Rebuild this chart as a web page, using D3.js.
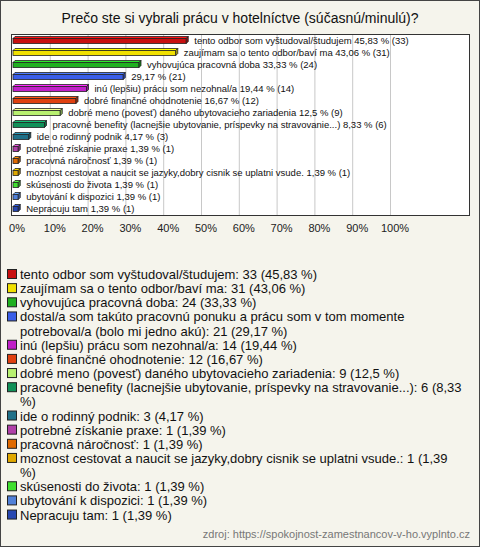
<!DOCTYPE html><html><head><meta charset="utf-8"><script src="https://cdn.jsdelivr.net/npm/d3@7"></script>
<style>body{margin:0;background:#fff}</style></head><body><svg id="c" width="480" height="547"></svg>
<script>
const categories=["tento odbor som vyštudoval/študujem","zaujímam sa o tento odbor/baví ma","vyhovujúca pracovná doba","dostal/a som takúto pracovnú ponuku a prácu som v tom momente potreboval/a (bolo mi jedno akú)","inú (lepšiu) prácu som nezohnal/a","dobré finančné ohodnotenie","dobré meno (povesť) daného ubytovacieho zariadenia","pracovné benefity (lacnejšie ubytovanie, príspevky na stravovanie...)","ide o rodinný podnik","potrebné získanie praxe","pracovná náročnosť","moznost cestovat a naucit se jazyky,dobry cisnik se uplatni vsude.","skúsenosti do života","ubytování k dispozici","Nepracuju tam"];
const barLabels=["tento odbor som vyštudoval/študujem","zaujímam sa o tento odbor/baví ma","vyhovujúca pracovná doba","","inú (lepšiu) prácu som nezohnal/a","dobré finančné ohodnotenie","dobré meno (povesť) daného ubytovacieho zariadenia","pracovné benefity (lacnejšie ubytovanie, príspevky na stravovanie...)","ide o rodinný podnik","potrebné získanie praxe","pracovná náročnosť","moznost cestovat a naucit se jazyky,dobry cisnik se uplatni vsude.","skúsenosti do života","ubytování k dispozici","Nepracuju tam"];
const counts=[33,31,24,21,14,12,9,6,3,1,1,1,1,1,1];
const percents=["45,83","43,06","33,33","29,17","19,44","16,67","12,5","8,33","4,17","1,39","1,39","1,39","1,39","1,39","1,39"];
const colors=["#c81010","#f0e000","#20b020","#3a5ee8","#c020c8","#e04010","#b8f070","#109058","#1f7088","#b040a8","#e06a00","#e0a800","#40e030","#5080d8","#2848b0"];
const ticks=[0,10,20,30,40,50,60,70,80,90,100];
const total=72;
const svg=d3.select("#c");
svg.append("rect").attr("x",0.5).attr("y",0.5).attr("width",479).attr("height",546).attr("fill","#f5f4ec").attr("stroke","#444");
svg.append("text").attr("x",240).attr("y",23).attr("text-anchor","middle").attr("font-family","Liberation Sans, Arial").attr("font-size",14).attr("fill","#111").text("Prečo ste si vybrali prácu v hotelníctve (súčasnú/minulú)?");
const x=d3.scaleLinear().domain([0,100]).range([12,390]);
const y=d3.scaleBand().domain(d3.range(categories.length)).range([35,215]).paddingInner(0);
svg.append("rect").attr("x",11.5).attr("y",34.5).attr("width",458).attr("height",181).attr("fill","#fff").attr("stroke","#333");
svg.append("g").selectAll("line").data(ticks.slice(1)).join("line").attr("x1",d=>x(d)+0.5).attr("x2",d=>x(d)+0.5).attr("y1",35).attr("y2",215).attr("stroke","#c8c8c8");
svg.append("g").attr("font-family","Liberation Sans, Arial").attr("font-size",11).attr("fill","#222").selectAll("text").data(ticks).join("text")
 .attr("x",d=>x(d)+5).attr("y",232).attr("text-anchor","middle").text(d=>d+"%");
const g=svg.append("g");
counts.forEach((c,i)=>{
 const p=c/total*100, yc=y(i)+y.bandwidth()/2, x0=x(0)+1, w=Math.max(x(p)-x(0),4), h=5, d=2;
 const col=d3.color(colors[i]);
 g.append("rect").attr("x",x0).attr("y",yc-h/2).attr("width",w).attr("height",h).attr("fill",colors[i]).attr("stroke","#222").attr("stroke-width",0.8);
 g.append("path").attr("d",`M${x0},${yc-h/2}L${x0+d},${yc-h/2-d}L${x0+w+d},${yc-h/2-d}L${x0+w},${yc-h/2}Z`).attr("fill",col.brighter(0.8)).attr("stroke","#222").attr("stroke-width",0.8);
 g.append("path").attr("d",`M${x0+w},${yc-h/2}L${x0+w+d},${yc-h/2-d}L${x0+w+d},${yc+h/2-d}L${x0+w},${yc+h/2}Z`).attr("fill",col.darker(0.8)).attr("stroke","#222").attr("stroke-width",0.8);
 g.append("text").attr("x",x0+w+8).attr("y",yc+3).attr("font-family","Liberation Sans, Arial").attr("font-size",9.5).attr("fill","#111")
  .text((barLabels[i]?barLabels[i]+" ":"")+percents[i]+" % ("+c+")");
});
const lg=svg.append("g").attr("font-family","Liberation Sans, Arial").attr("font-size",13).attr("fill","#111");
let ly=279; const lh=14.15, maxW=442;
categories.forEach((c,i)=>{
 lg.append("rect").attr("x",7.5).attr("y",ly-9.5).attr("width",9).attr("height",9).attr("fill",colors[i]).attr("stroke","#222");
 const words=(c+": "+counts[i]+" ("+percents[i]+" %)").split(" ");
 let line="", t=lg.append("text").attr("x",20).attr("y",ly);
 words.forEach(wd=>{
  const test=line?line+" "+wd:wd; t.text(test);
  if(t.node().getComputedTextLength()>maxW && line){t.text(line); ly+=lh; t=lg.append("text").attr("x",20).attr("y",ly); line=wd; t.text(wd);}
  else line=test;
 });
 ly+=lh;
});
svg.append("text").attr("x",470).attr("y",538).attr("text-anchor","end").attr("font-family","Liberation Sans, Arial").attr("font-size",11).attr("fill","#777").text("zdroj: https://spokojnost-zamestnancov-v-ho.vyplnto.cz");
</script></body></html>
